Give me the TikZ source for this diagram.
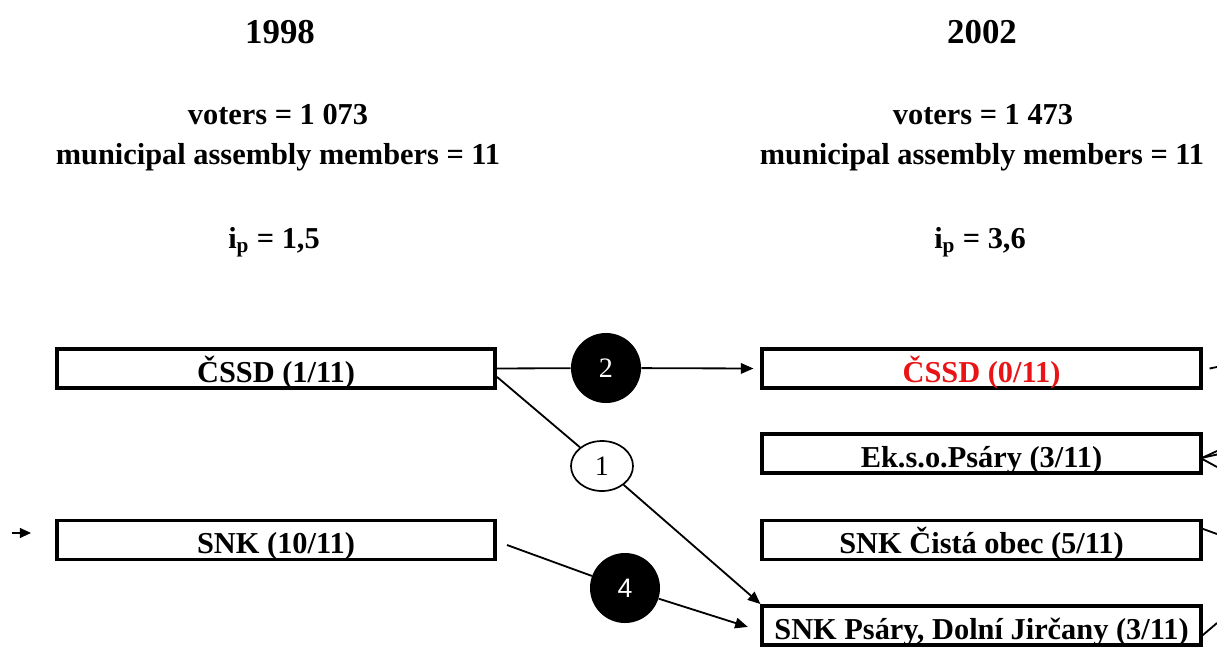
\documentclass[tikz,border=0pt]{standalone}
\usepackage{fontspec}
\setmainfont{Liberation Serif}
\newfontfamily\sansf{Liberation Sans}
\usetikzlibrary{arrows.meta,shapes.geometric}
\definecolor{redtxt}{RGB}{232,20,22}
\begin{document}
\begin{tikzpicture}[x=0.025cm,y=-0.025cm,
  title/.style={font=\fontsize{24.8}{28}\selectfont\bfseries, inner sep=0},
  info/.style={font=\fontsize{21.6}{24}\selectfont\bfseries, inner sep=0},
  party/.style={draw, line width=2.8pt, minimum width=10.95cm, minimum height=0.975cm, inner sep=0,
    text height=19.3pt, text depth=0pt,
    font=\fontsize{21.6}{24}\selectfont\bfseries},
  bcirc/.style={circle, fill=black, text=white, minimum size=1.75cm, inner sep=0,
    font=\fontsize{20}{22}\selectfont},
  ecirc/.style={ellipse, draw, fill=white, line width=1.2pt, minimum width=1.55cm, minimum height=1.25cm, inner sep=0,
    font=\fontsize{20}{22}\selectfont},
  conn/.style={line width=1.3pt},
  tip/.style={-{Triangle[length=9pt,width=7.5pt]}}
]
\useasboundingbox (0,0) rectangle (1217,646);
\clip (0,0) rectangle (1217,646);

% headings
\node[title] (y1) at (280,32) {1998};
\node[title] (y2) at (982,32) {2002};
\node[info] (v1) at (278,115) {voters = 1 073};
\node[info] (m1) at (278,157) {municipal assembly members = 11};
\node[info] (v2) at (983,115) {voters = 1 473};
\node[info] (m2) at (982,157) {municipal assembly members = 11};
\node[info] (i1) at (274,242) {i\textsubscript{p} = 1,5};
\node[info] (i2) at (980,242) {i\textsubscript{p} = 3,6};

% parties
\node[party] (lcssd) at (276,368.5) {ČSSD (1/11)};
\node[party] (lsnk) at (276,540) {SNK (10/11)};
\node[party] (rcssd) at (981.5,368.5) {\textcolor{redtxt}{ČSSD (0/11)}};
\node[party] (rek) at (981.5,453.5) {Ek.s.o.Psáry (3/11)};
\node[party] (rsnkc) at (981.5,540) {SNK Čistá obec (5/11)};
\node[party] (rsnkp) at (981.5,625.5) {SNK Psáry, Dolní Jirčany (3/11)};

% flow circles
\node[bcirc] (c2) at (606,368) {2};
\node[ecirc] (c1) at (602,466) {1};
\node[bcirc, font=\sansf\fontsize{19}{21}\selectfont] (c4) at (625,588) {4};

% connectors
\draw[conn] (lcssd.east) -- (c2);
\draw[conn,tip] (c2) -- ([xshift=-5pt]rcssd.west);
\draw[conn] ([yshift=-6pt]lcssd.east) -- (c1);
\draw[conn,tip] (c1) -- (rsnkp.north west);
\coordinate (s4) at (507,545);
\draw[conn] (s4) -- (c4);
\draw[conn,tip] (c4) -- ([xshift=-9pt,yshift=-1pt]rsnkp.west);

% incoming stub on the left
\coordinate (in0) at (12,533);
\draw[conn,-{Triangle[length=8pt,width=7pt]}] (in0) -- ([shift={(-17pt,5pt)}]lsnk.west);

% outgoing stubs on the right
\coordinate (o1) at (1217,367);
\draw[conn] ([xshift=5pt]rcssd.east) -- (o1);
\coordinate (o2a) at (1217,451);
\coordinate (o2b) at (1217,454.5);
\coordinate (o2c) at (1217,467);
\draw[conn] ([yshift=-3pt]rek.east) -- (o2a);
\draw[conn] ([yshift=-3pt]rek.east) -- (o2b);
\draw[conn] ([yshift=-4pt]rek.east) -- (o2c);
\coordinate (o3) at (1217,534);
\draw[conn] ([yshift=8pt]rsnkc.east) -- (o3);
\coordinate (o4) at (1217,623);
\draw[conn] ([yshift=-7pt]rsnkp.east) -- (o4);
\end{tikzpicture}
\end{document}
